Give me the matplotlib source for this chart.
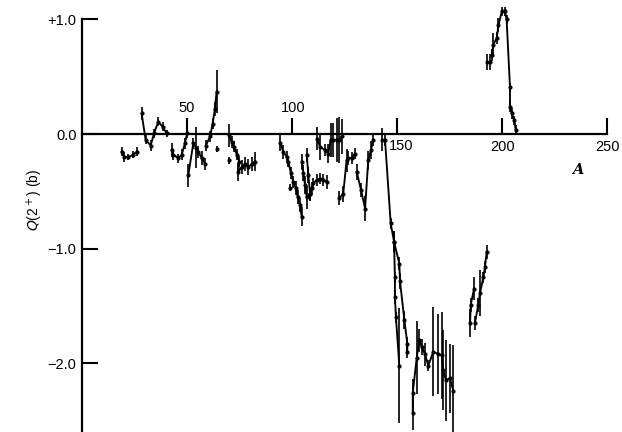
import numpy as np
import matplotlib.pyplot as plt

# mass number A, quadrupole moment Q(2+) in barns, error
sd_A = [18.9, 20.1, 22.0, 24.4, 26.0]
sd_Q = [-0.155, -0.20, -0.20, -0.18, -0.155]
sd_dQ = [0.04, 0.04, 0.03, 0.03, 0.04]

ca_A = [28.4, 30.3, 32.7, 34.3, 36.3, 38.4, 40.3]
ca_Q = [0.18, -0.05, -0.10, 0.006, 0.107, 0.064, 0.006]
ca_dQ = [0.06, 0.04, 0.05, 0.04, 0.04, 0.04, 0.03]

ti_A = [42.7, 43.5, 45.9, 47.5, 49.0, 50.1]
ti_Q = [-0.14, -0.18, -0.21, -0.18, -0.08, 0.006]
ti_dQ = [0.06, 0.05, 0.04, 0.05, 0.05, 0.04]

fe_A = [50.6, 53.0, 54.3, 55.4, 57.0, 58.6]
fe_Q = [-0.36, -0.08, -0.12, -0.155, -0.21, -0.26]
fe_dQ = [0.10, 0.05, 0.18, 0.05, 0.06, 0.05]

ni_A = [59.0, 61.0, 62.2, 63.3, 64.1]
ni_Q = [-0.10, -0.02, 0.09, 0.22, 0.37]
ni_dQ = [0.05, 0.05, 0.05, 0.06, 0.19]

ge_A = [70.1, 71.3, 72.4, 73.7, 74.9, 74.4, 76.0, 77.6, 79.2, 80.8, 82.4]
ge_Q = [-0.01, -0.07, -0.11, -0.18, -0.24, -0.33, -0.29, -0.26, -0.29, -0.26, -0.24]
ge_dQ = [0.10, 0.05, 0.05, 0.05, 0.05, 0.08, 0.06, 0.06, 0.07, 0.06, 0.08]

mo_A = [94.3, 95.9, 97.5, 98.2, 99.5, 100.6, 101.8, 102.7, 103.8, 104.6]
mo_Q = [-0.08, -0.155, -0.20, -0.24, -0.34, -0.42, -0.47, -0.55, -0.62, -0.72]
mo_dQ = [0.07, 0.06, 0.05, 0.05, 0.05, 0.05, 0.06, 0.06, 0.06, 0.08]

pd_A = [104.6, 105.4, 106.2, 107.0, 108.6, 109.4, 110.1, 111.8, 113.3, 114.9, 116.5]
pd_Q = [-0.24, -0.34, -0.445, -0.55, -0.52, -0.47, -0.43, -0.40, -0.39, -0.40, -0.42]
pd_dQ = [0.07, 0.07, 0.08, 0.10, 0.06, 0.05, 0.05, 0.05, 0.05, 0.05, 0.06]

cd_A = [107.0, 107.8, 108.6]
cd_Q = [-0.18, -0.36, -0.52]
cd_dQ = [0.06, 0.07, 0.06]

sn_A = [112.0, 113.3, 115.7, 117.3, 118.4, 119.7, 121.3, 122.5, 123.7]
sn_Q = [-0.04, -0.11, -0.14, -0.17, -0.05, -0.05, -0.05, -0.05, -0.02]
sn_dQ = [0.10, 0.12, 0.05, 0.08, 0.15, 0.15, 0.19, 0.20, 0.15]

te_A = [122.5, 124.4, 126.0, 126.8, 128.4, 130.0]
te_Q = [-0.56, -0.52, -0.23, -0.21, -0.21, -0.17]
te_dQ = [0.06, 0.07, 0.10, 0.06, 0.05, 0.05]

ba_A = [130.8, 132.9, 134.8, 136.3, 137.6, 138.7]
ba_Q = [-0.33, -0.49, -0.65, -0.23, -0.14, -0.05]
ba_dQ = [0.07, 0.06, 0.11, 0.08, 0.08, 0.05]

sm_A = [144.3, 147.0, 148.6, 149.0, 149.0, 149.5, 151.1]
sm_Q = [-0.05, -0.78, -0.94, -1.25, -1.42, -1.60, -2.02]
sm_dQ = [0.05, 0.05, 0.09, 0.05, 0.06, 0.05, 0.50]

nd_A = [148.6, 151.1, 151.4, 153.5, 154.9, 154.9]
nd_Q = [-0.94, -1.13, -1.28, -1.62, -1.83, -1.90]
nd_dQ = [0.09, 0.06, 0.07, 0.08, 0.06, 0.05]

re_A = [157.5, 157.5, 159.4, 160.6, 161.8, 163.3, 164.9,
        167.3, 169.7, 171.3, 172.0, 173.3, 175.2, 176.8]
re_Q = [-2.43, -2.26, -1.95, -1.80, -1.86, -1.92, -2.02,
        -1.90, -1.92, -1.93, -2.06, -2.15, -2.13, -2.24]
re_dQ = [0.15, 0.12, 0.32, 0.10, 0.07, 0.10, 0.05,
         0.39, 0.35, 0.38, 0.35, 0.35, 0.30, 0.40]

os_A = [184.8, 185.1, 186.7]
os_Q = [-1.65, -1.49, -1.35]
os_dQ = [0.12, 0.06, 0.10]

pt_A = [187.1, 188.7, 189.5, 191.1, 191.9, 192.7]
pt_Q = [-1.65, -1.49, -1.39, -1.25, -1.16, -1.03]
pt_dQ = [0.06, 0.06, 0.20, 0.05, 0.05, 0.06]

hg_A = [192.7, 194.3]
hg_Q = [0.63, 0.63]
hg_dQ = [0.07, 0.07]

pb_A = [195.1, 195.9, 197.5, 198.3, 199.9, 201.4, 202.2, 203.8, 203.8, 204.6, 205.9, 206.5]
pb_Q = [0.69, 0.78, 0.84, 0.95, 1.07, 1.07, 1.00, 0.41, 0.24, 0.18, 0.12, 0.035]
pb_dQ = [0.05, 0.10, 0.05, 0.06, 0.04, 0.04, 0.04, 0.04, 0.05, 0.05, 0.04, 0.04]

single_A = [64.1, 70.1, 99.0, 142.7]
single_Q = [-0.13, -0.23, -0.47, -0.05]
single_dQ = [0.03, 0.03, 0.03, 0.10]

segments = [(sd_A, sd_Q, sd_dQ), (ca_A, ca_Q, ca_dQ), (ti_A, ti_Q, ti_dQ),
            (fe_A, fe_Q, fe_dQ), (ni_A, ni_Q, ni_dQ), (ge_A, ge_Q, ge_dQ),
            (mo_A, mo_Q, mo_dQ), (pd_A, pd_Q, pd_dQ), (cd_A, cd_Q, cd_dQ),
            (sn_A, sn_Q, sn_dQ), (te_A, te_Q, te_dQ), (ba_A, ba_Q, ba_dQ),
            (sm_A, sm_Q, sm_dQ), (nd_A, nd_Q, nd_dQ), (re_A, re_Q, re_dQ),
            (os_A, os_Q, os_dQ), (pt_A, pt_Q, pt_dQ), (hg_A, hg_Q, hg_dQ),
            (pb_A, pb_Q, pb_dQ)]

plt.rcParams['font.family'] = ['Liberation Sans', 'DejaVu Sans']

fig = plt.figure(figsize=(6.22, 4.32), dpi=100)
ax = fig.add_axes([82 / 622, 0.0, 525 / 622, 1.0])

for a, q, dq in segments:
    ax.errorbar(a, q, yerr=dq, color='black', lw=1.35, elinewidth=1.2,
                capsize=0, marker='.', markersize=4)
ax.errorbar(single_A, single_Q, yerr=single_dQ, color='black', ls='none',
            elinewidth=1.2, capsize=0, marker='.', markersize=4)

ax.set_xlim(0, 250)
ax.set_ylim(-2.6, 1.17)

for s in ['top', 'right']:
    ax.spines[s].set_visible(False)
ax.spines['bottom'].set_position(('data', 0))
ax.spines['left'].set_bounds(-2.6, 1.0)
for s in ['bottom', 'left']:
    ax.spines[s].set_linewidth(1.6)

ax.set_xticks([50, 100, 150, 200, 250])
ax.set_xticklabels([])
ax.set_yticks([1.0, 0.0, -1.0, -2.0])
ax.set_yticklabels(['+1.0', '0.0', '\u22121.0', '\u22122.0'], fontsize=10.5)
ax.tick_params(direction='in', length=11.5, width=1.5, pad=4)

# x tick labels as printed in the source
ax.text(50, 0.23, '50', ha='center', va='center', fontsize=10.5)
ax.text(100.5, 0.23, '100', ha='center', va='center', fontsize=10.5)
ax.text(152, -0.105, '150', ha='center', va='center', fontsize=10.5)
ax.text(200.2, -0.11, '200', ha='center', va='center', fontsize=10.5)
ax.text(250.2, -0.11, '250', ha='center', va='center', fontsize=10.5)

ax.text(236, -0.31, 'A', ha='center', va='center', fontsize=10.5,
        fontstyle='italic', fontweight='bold', family='DejaVu Serif')
fig.text(35 / 622, 1 - 200 / 432, r'$Q$(2$^+$) (b)', rotation=90,
         ha='center', va='center', fontsize=10)

fig.savefig('out.png', dpi=100)
